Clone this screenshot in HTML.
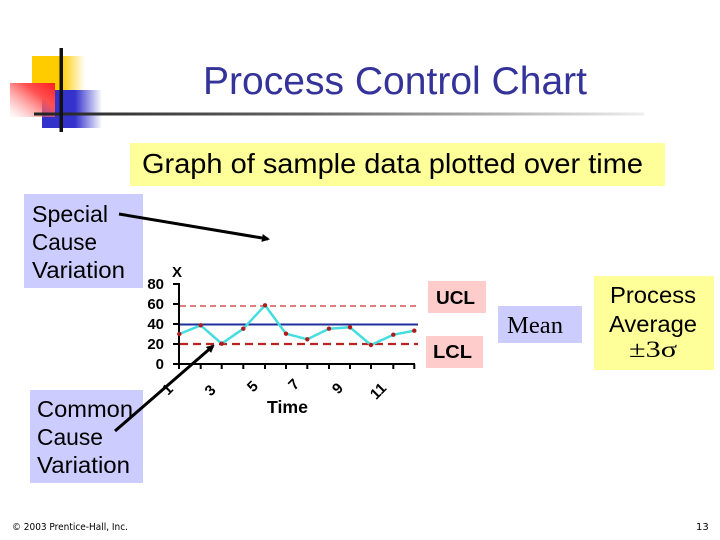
<!DOCTYPE html>
<html>
<head>
<meta charset="utf-8">
<style>
  html,body{margin:0;padding:0;background:#fff;}
  body{width:720px;height:540px;overflow:hidden;}
  svg{display:block;}
</style>
</head>
<body>
<svg width="720" height="540" viewBox="0 0 720 540" xmlns="http://www.w3.org/2000/svg">
  <defs>
    <linearGradient id="gy" x1="0" y1="0" x2="1" y2="0">
      <stop offset="0" stop-color="#ffcc00"/>
      <stop offset="0.55" stop-color="#ffcc00"/>
      <stop offset="1" stop-color="#ffcc00" stop-opacity="0"/>
    </linearGradient>
    <linearGradient id="gb" x1="0" y1="0" x2="1" y2="0">
      <stop offset="0" stop-color="#3333cc"/>
      <stop offset="0.55" stop-color="#3333cc"/>
      <stop offset="1" stop-color="#3333cc" stop-opacity="0"/>
    </linearGradient>
    <linearGradient id="gr" x1="1" y1="0" x2="0" y2="1">
      <stop offset="0" stop-color="#ff2020"/>
      <stop offset="0.35" stop-color="#ff5050"/>
      <stop offset="1" stop-color="#ff9090" stop-opacity="0"/>
    </linearGradient>
    <linearGradient id="gl" x1="0" y1="0" x2="1" y2="0">
      <stop offset="0" stop-color="#222"/>
      <stop offset="0.45" stop-color="#666"/>
      <stop offset="1" stop-color="#eee"/>
    </linearGradient>
    <marker id="ah" markerWidth="8" markerHeight="8" refX="6" refY="4" orient="auto" markerUnits="userSpaceOnUse">
      <path d="M0,0 L8,4 L0,8 Z" fill="#000"/>
    </marker>
  </defs>

  <!-- logo -->
  <rect x="32" y="56" width="53" height="34" fill="url(#gy)"/>
  <rect x="42" y="90" width="60" height="38" fill="url(#gb)"/>
  <rect x="10" y="83" width="45" height="34" fill="url(#gr)"/>
  <rect x="34" y="112.5" width="610" height="3" fill="url(#gl)"/>
  <rect x="59.5" y="48" width="3.5" height="84" fill="#111"/>

  <!-- title -->
  <text x="203" y="94" font-family="Liberation Sans, sans-serif" font-size="39" fill="#333399" textLength="384" lengthAdjust="spacingAndGlyphs">Process Control Chart</text>

  <!-- subtitle box -->
  <rect x="130" y="143" width="535" height="43" fill="#ffff99"/>
  <text x="142" y="173" font-family="Liberation Sans, sans-serif" font-size="28" fill="#000" textLength="501" lengthAdjust="spacingAndGlyphs">Graph of sample data plotted over time</text>

  <!-- special cause box -->
  <rect x="24" y="194" width="119" height="94" fill="#ccccff"/>
  <g font-family="Liberation Sans, sans-serif" font-size="23.5" fill="#000">
    <text x="32" y="222" textLength="76" lengthAdjust="spacingAndGlyphs">Special</text>
    <text x="32" y="250" textLength="65" lengthAdjust="spacingAndGlyphs">Cause</text>
    <text x="32" y="278" textLength="93" lengthAdjust="spacingAndGlyphs">Variation</text>
  </g>

  <!-- common cause box -->
  <rect x="30" y="390" width="113" height="93" fill="#ccccff"/>
  <g font-family="Liberation Sans, sans-serif" font-size="23.5" fill="#000">
    <text x="37" y="417" textLength="96" lengthAdjust="spacingAndGlyphs">Common</text>
    <text x="37" y="445" textLength="66" lengthAdjust="spacingAndGlyphs">Cause</text>
    <text x="37" y="473" textLength="93" lengthAdjust="spacingAndGlyphs">Variation</text>
  </g>

  <!-- chart -->
  <g font-family="Liberation Sans, sans-serif" font-weight="bold" fill="#000">
    <text x="172" y="277" font-size="15">X</text>
    <text x="164" y="289" font-size="15" text-anchor="end">80</text>
    <text x="164" y="309" font-size="15" text-anchor="end">60</text>
    <text x="164" y="329" font-size="15" text-anchor="end">40</text>
    <text x="164" y="349" font-size="15" text-anchor="end">20</text>
    <text x="164" y="369" font-size="15" text-anchor="end">0</text>
    <text x="267" y="413" font-size="17.5" textLength="41" lengthAdjust="spacingAndGlyphs">Time</text>
    <text font-size="15" text-anchor="end" transform="translate(174,390) rotate(-45)">1</text>
    <text font-size="15" text-anchor="end" transform="translate(216.7,391) rotate(-45)">3</text>
    <text font-size="15" text-anchor="end" transform="translate(259,387) rotate(-45)">5</text>
    <text font-size="15" text-anchor="end" transform="translate(300.3,385) rotate(-45)">7</text>
    <text font-size="15" text-anchor="end" transform="translate(344,389) rotate(-45)">9</text>
    <text font-size="15" text-anchor="end" transform="translate(387.3,389) rotate(-45)">11</text>
  </g>

  <!-- axes -->
  <g stroke="#000" stroke-width="2" fill="none">
    <line x1="179" y1="283" x2="179" y2="369"/>
    <line x1="173" y1="284" x2="179" y2="284"/>
    <line x1="173" y1="304" x2="179" y2="304"/>
    <line x1="173" y1="324" x2="179" y2="324"/>
    <line x1="173" y1="344" x2="179" y2="344"/>
    <line x1="173" y1="364" x2="179" y2="364"/>
    <line x1="179" y1="364" x2="415" y2="364"/>
    <line x1="200.7" y1="364" x2="200.7" y2="369"/>
    <line x1="221.7" y1="364" x2="221.7" y2="369"/>
    <line x1="243.3" y1="364" x2="243.3" y2="369"/>
    <line x1="265" y1="364" x2="265" y2="369"/>
    <line x1="286" y1="364" x2="286" y2="369"/>
    <line x1="307.3" y1="364" x2="307.3" y2="369"/>
    <line x1="329" y1="364" x2="329" y2="369"/>
    <line x1="350" y1="364" x2="350" y2="369"/>
    <line x1="371" y1="364" x2="371" y2="369"/>
    <line x1="393.3" y1="364" x2="393.3" y2="369"/>
    <line x1="414.3" y1="364" x2="414.3" y2="369"/>
  </g>

  <!-- control lines -->
  <line x1="180" y1="306" x2="418" y2="306" stroke="#cc3333" stroke-width="1.2" stroke-dasharray="6,4"/>
  <line x1="180" y1="324.5" x2="418" y2="324.5" stroke="#1f2f99" stroke-width="2"/>
  <line x1="180" y1="344" x2="418" y2="344" stroke="#bb2222" stroke-width="2.2" stroke-dasharray="8,5"/>

  <!-- data -->
  <polyline fill="none" stroke="#44dde0" stroke-width="2.5" stroke-linejoin="round"
    points="179.3,334 200.7,325.3 221.7,343.7 243.3,328.7 265,305.3 286,333.7 307.3,339.3 329,328.7 350,327.3 371,345 393.3,334.7 414.3,330.7"/>
  <g fill="#b01a1a">
    <circle cx="179.3" cy="334" r="2.2"/>
    <circle cx="200.7" cy="325.3" r="2.2"/>
    <circle cx="221.7" cy="343.7" r="2.2"/>
    <circle cx="243.3" cy="328.7" r="2.2"/>
    <circle cx="265" cy="305.3" r="2.2"/>
    <circle cx="286" cy="333.7" r="2.2"/>
    <circle cx="307.3" cy="339.3" r="2.2"/>
    <circle cx="329" cy="328.7" r="2.2"/>
    <circle cx="350" cy="327.3" r="2.2"/>
    <circle cx="371" cy="345" r="2.2"/>
    <circle cx="393.3" cy="334.7" r="2.2"/>
    <circle cx="414.3" cy="330.7" r="2.2"/>
  </g>

  <!-- arrows -->
  <line x1="119" y1="214" x2="268" y2="239" stroke="#000" stroke-width="3" marker-end="url(#ah)"/>
  <line x1="115" y1="431" x2="213" y2="346" stroke="#000" stroke-width="3" marker-end="url(#ah)"/>

  <!-- UCL / LCL / Mean / Process boxes -->
  <rect x="428" y="281" width="58" height="32" fill="#ffcccc"/>
  <text x="436" y="304" font-family="Liberation Sans, sans-serif" font-weight="bold" font-size="18" textLength="39" lengthAdjust="spacingAndGlyphs">UCL</text>
  <rect x="426" y="336" width="57" height="32" fill="#ffcccc"/>
  <text x="433" y="358" font-family="Liberation Sans, sans-serif" font-weight="bold" font-size="18" textLength="39" lengthAdjust="spacingAndGlyphs">LCL</text>

  <rect x="498" y="306" width="84" height="37" fill="#ccccff"/>
  <text x="507" y="333" font-family="Liberation Serif, serif" font-size="24" textLength="56" lengthAdjust="spacingAndGlyphs">Mean</text>

  <rect x="594" y="276" width="120" height="94" fill="#ffff99"/>
  <g font-family="Liberation Sans, sans-serif" font-size="23.5" fill="#000" text-anchor="middle">
    <text x="653" y="303" textLength="86" lengthAdjust="spacingAndGlyphs">Process</text>
    <text x="653" y="332" textLength="88" lengthAdjust="spacingAndGlyphs">Average</text>
  </g>
  <text x="653" y="357" font-family="Liberation Serif, serif" font-size="23" text-anchor="middle" textLength="48" lengthAdjust="spacingAndGlyphs">±3σ</text>

  <!-- footer -->
  <text x="12" y="530" font-family="DejaVu Sans, Liberation Sans, sans-serif" font-size="9.5" fill="#000" textLength="116" lengthAdjust="spacingAndGlyphs">© 2003 Prentice-Hall, Inc.</text>
  <text x="696" y="530" font-family="DejaVu Sans, Liberation Sans, sans-serif" font-size="10" fill="#000">13</text>
</svg>
</body>
</html>
